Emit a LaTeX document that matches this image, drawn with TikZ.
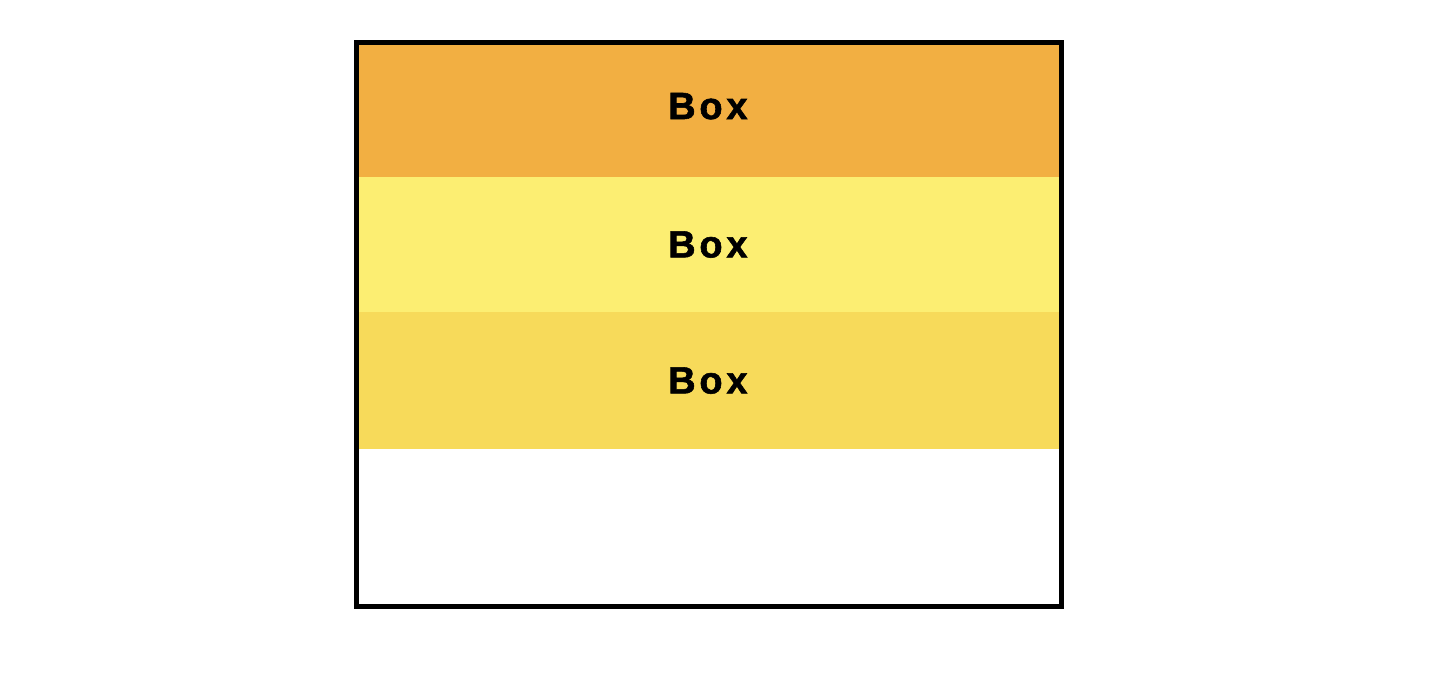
\documentclass[tikz,border=0pt]{standalone}
\usepackage{fontspec}
\newfontfamily\boxfont{Liberation Sans}[LetterSpace=10, FakeBold=1.5]
\usepackage{tikz}
\usetikzlibrary{positioning}
\definecolor{bandOrange}{RGB}{242,175,66}
\definecolor{bandLight}{RGB}{252,238,114}
\definecolor{bandYellow}{RGB}{247,218,90}
\tikzset{
  band/.style={minimum width=17.5cm, inner sep=0pt, outer sep=0pt, draw=none},
  boxlabel/.style={inner sep=0pt, font=\boxfont\bfseries\fontsize{27}{32}\selectfont},
  frame/.style={draw, line width=0.125cm, inner sep=0pt, outer sep=0pt, minimum width=17.625cm, minimum height=14.1cm}
}
\begin{document}
\begin{tikzpicture}[x=0.025cm, y=-0.025cm]
\useasboundingbox (0,0) rectangle (1430,676);
% coloured bands
\node[band, fill=bandOrange, minimum height=3.3cm, anchor=north west] (band1) at (359,45) {};
\node[band, fill=bandLight, minimum height=3.375cm, below=0cm of band1] (band2) {};
\node[band, fill=bandYellow, minimum height=3.425cm, below=0cm of band2] (band3) {};
% labels
\node[boxlabel] (label1) at ([xshift=-0.03cm, yshift=0.12cm]band1.center) {Box};
\node[boxlabel] (label2) at ([xshift=-0.03cm]band2.center) {Box};
\node[boxlabel] (label3) at ([xshift=-0.03cm]band3.center) {Box};
% outer frame
\node[frame, anchor=north west] (outer) at (356.5,42.5) {};
\end{tikzpicture}
\end{document}
